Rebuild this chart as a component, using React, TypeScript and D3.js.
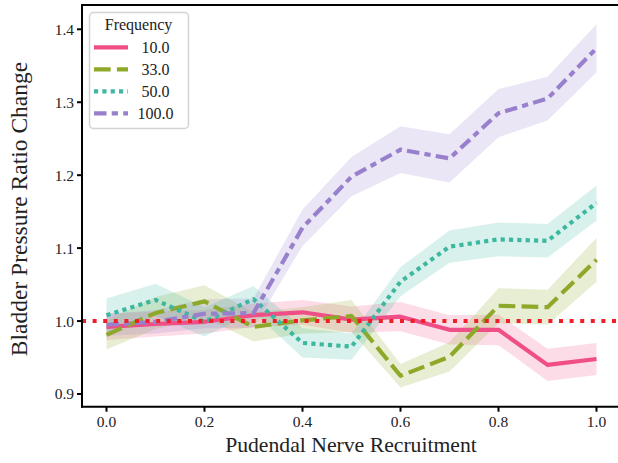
import React from "react";
import * as d3 from "d3";

// Pudendal nerve recruitment levels (x) shared by every series
const recruitment = [0, 0.1, 0.2, 0.3, 0.4, 0.5, 0.6, 0.7, 0.8, 0.9, 1.0];

// Mean bladder pressure ratio change per stimulation frequency
const freq10 = [0.992, 0.996, 0.999, 1.008, 1.012, 1.002, 1.006, 0.988, 0.988, 0.94, 0.948];
const freq33 = [0.981, 1.011, 1.027, 0.992, 1.001, 1.007, 0.925, 0.951, 1.021, 1.019, 1.084];
const freq50 = [1.008, 1.029, 0.999, 1.03, 0.97, 0.965, 1.054, 1.102, 1.112, 1.11, 1.162];
const freq100 = [0.995, 0.999, 1.01, 1.011, 1.128, 1.198, 1.235, 1.223, 1.285, 1.305, 1.374];

// Half-width of the confidence band around each mean
const spread10 = [0.018, 0.017, 0.016, 0.016, 0.017, 0.018, 0.02, 0.02, 0.021, 0.022, 0.022];
const spread33 = [0.02, 0.022, 0.022, 0.02, 0.018, 0.022, 0.016, 0.02, 0.024, 0.024, 0.03];
const spread50 = [0.023, 0.022, 0.02, 0.018, 0.02, 0.018, 0.02, 0.022, 0.023, 0.023, 0.024];
const spread100 = [0.015, 0.016, 0.02, 0.02, 0.025, 0.027, 0.032, 0.033, 0.033, 0.03, 0.033];

const seriesLabels = ["10.0", "33.0", "50.0", "100.0"];
const xTicks = [0, 0.2, 0.4, 0.6, 0.8, 1.0];
const yTicks = [0.9, 1.0, 1.1, 1.2, 1.3, 1.4];

const LW = 4.17;

const series = [
  { label: seriesLabels[0], mean: freq10, spread: spread10, color: "#ef4e86", dash: "" },
  { label: seriesLabels[1], mean: freq33, spread: spread33, color: "#8ea92a", dash: `${4 * LW},${1.5 * LW}` },
  { label: seriesLabels[2], mean: freq50, spread: spread50, color: "#3db7a0", dash: `${LW},${LW}` },
  {
    label: seriesLabels[3],
    mean: freq100,
    spread: spread100,
    color: "#9880cc",
    dash: `${3 * LW},${1.25 * LW},${1.5 * LW},${1.25 * LW}`,
  },
];

const W = 618;
const H = 463;
const font = "'Liberation Serif', 'Times New Roman', serif";

export default function App() {
  const x = d3.scaleLinear().domain([-0.05, 1.05]).range([82, 621]);
  const y = d3.scaleLinear().domain([0.8826, 1.4333]).range([406.7, 5]);
  const left = 82;
  const right = 621;
  const top = 5;
  const bottom = 406.7;

  const line = d3
    .line<number>()
    .x((_, i) => x(recruitment[i]))
    .y((d) => y(d));

  const band = (mean: number[], spread: number[]) =>
    d3
      .area<number>()
      .x((_, i) => x(recruitment[i]))
      .y0((d, i) => y(d - spread[i]))
      .y1((d, i) => y(d + spread[i]))(mean) || "";

  return (
    <svg
      width={W}
      height={H}
      style={{ position: "absolute", left: 0, top: 0, background: "#fff" }}
      fontFamily={font}
    >
      <defs>
        <clipPath id="plot-area">
          <rect x={left} y={top} width={right - left} height={bottom - top} />
        </clipPath>
      </defs>

      <g clipPath="url(#plot-area)">
        {series.map((s) => (
          <path
            key={s.label}
            d={band(s.mean, s.spread)}
            fill={s.color}
            fillOpacity={0.2}
            stroke="none"
          />
        ))}
        {series.map((s) => (
          <path
            key={s.label}
            d={line(s.mean) || ""}
            fill="none"
            stroke={s.color}
            strokeWidth={LW}
            strokeDasharray={s.dash || undefined}
            strokeLinejoin="round"
          />
        ))}
        {/* baseline reference at ratio 1.0 */}
        <line
          x1={left}
          x2={right}
          y1={y(1)}
          y2={y(1)}
          stroke="#f01e26"
          strokeWidth={4}
          strokeDasharray="4,6.6"
        />
      </g>

      {/* spines */}
      <g stroke="#000" strokeWidth={2} fill="none">
        <line x1={left} x2={left} y1={top} y2={bottom + 1} />
        <line x1={left - 1} x2={right} y1={bottom} y2={bottom} />
        <line x1={left - 1} x2={right} y1={top} y2={top} />
        <line x1={right} x2={right} y1={top} y2={bottom} />
      </g>

      {/* x axis */}
      {xTicks.map((t) => (
        <g key={t} transform={`translate(${x(t)},0)`}>
          <line y1={bottom} y2={bottom + 5} stroke="#000" strokeWidth={2} />
          <text y={bottom + 20} textAnchor="middle" fontSize={15.5} fill="#222">
            {t.toFixed(1)}
          </text>
        </g>
      ))}

      {/* y axis */}
      {yTicks.map((t) => (
        <g key={t} transform={`translate(0,${y(t)})`}>
          <line x1={left - 5} x2={left} stroke="#000" strokeWidth={2} />
          <text x={left - 8} dy="0.35em" textAnchor="end" fontSize={15.5} fill="#222">
            {t.toFixed(1)}
          </text>
        </g>
      ))}

      <text x={351} y={452} textAnchor="middle" fontSize={21.7} fill="#222">
        Pudendal Nerve Recruitment
      </text>
      <text
        transform={`translate(27,209) rotate(-90)`}
        textAnchor="middle"
        fontSize={23.5}
        fill="#222"
      >
        Bladder Pressure Ratio Change
      </text>

      {/* legend */}
      <g>
        <rect
          x={89.5}
          y={12.5}
          width={99}
          height={116}
          rx={4}
          fill="#fff"
          fillOpacity={0.8}
          stroke="#d4d4d4"
          strokeWidth={1.5}
        />
        <text x={138.5} y={29.5} textAnchor="middle" fontSize={16} fill="#222">
          Frequency
        </text>
        {series.map((s, i) => {
          const ly = 47.3 + i * 22;
          return (
            <g key={s.label}>
              <line
                x1={94}
                x2={128}
                y1={ly}
                y2={ly}
                stroke={s.color}
                strokeWidth={LW}
                strokeDasharray={s.dash || undefined}
              />
              <text x={155.5} y={ly} dy="0.35em" textAnchor="middle" fontSize={16} fill="#222">
                {s.label}
              </text>
            </g>
          );
        })}
      </g>
    </svg>
  );
}
